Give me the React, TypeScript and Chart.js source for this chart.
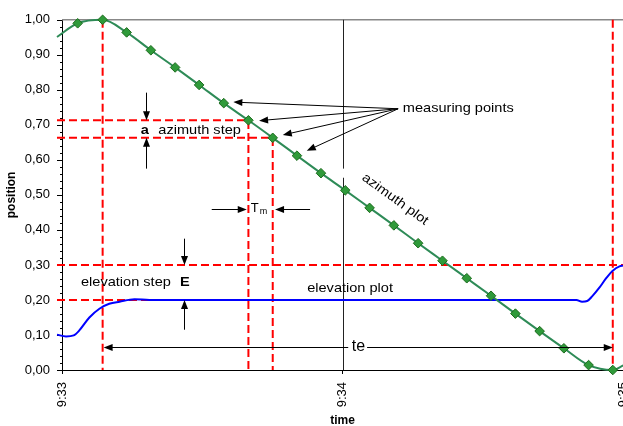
import React, { useEffect, useRef } from 'react';
import { Chart, registerables } from 'chart.js';

Chart.register(...registerables);

const FONT = '"Liberation Sans", Arial, sans-serif';

// x values are seconds after 9:33
const timeTickSeconds = [0, 60, 120];
const timeTickLabels = ['9:33', '9:34', '9:35'];

// measuring points (diamonds) on the azimuth plot
const measTimes = [3.35, 8.69, 13.82, 19.0, 24.19, 29.32, 34.59, 39.86, 45.06, 50.24, 55.37, 60.58, 65.77, 70.96, 76.15, 81.36, 86.55, 91.74, 96.95, 102.13, 107.32, 112.6, 117.77];
const measValues = [0.99, 1.0, 0.964, 0.913, 0.864, 0.814, 0.762, 0.713, 0.663, 0.612, 0.562, 0.513, 0.463, 0.413, 0.362, 0.312, 0.262, 0.212, 0.161, 0.111, 0.062, 0.014, 0.0];
// curve continuation beyond first / last measuring point
const azLead = [-1.07, 0.951];
const azTail = [120, 0.013];

// elevation plot
const elevTimes = [-1.07, 0.86, 2.5, 3.7, 5.85, 8.0, 10.1, 12.3, 15.5, 18.7, 60, 110.0, 111.2, 112.3, 113.4, 114.9, 116.4, 117.7, 119.2, 120];
const elevValues = [0.101, 0.096, 0.099, 0.113, 0.15, 0.175, 0.189, 0.195, 0.202, 0.2, 0.2, 0.2, 0.195, 0.197, 0.211, 0.235, 0.263, 0.283, 0.296, 0.298];

// red dashed reference lines
const lineStart = -1.07;
const axisEnd = 120;
const peakTime = 8.69;
const endTime = 117.77;
const azStepTimes = [39.86, 45.06];
const azStepValues = [0.713, 0.663];
const elevStepValues = [0.3, 0.2];
const elevStepLineEnd = 30;

// annotation anchors (data coordinates)
const gridGap = [0.575, 0.549];
const measLabel = [72.88, 0.746];
const measArrowFrom = [71.87, 0.746];
const measArrowTips = [[36.64, 0.765], [42.14, 0.712], [47.21, 0.671], [52.34, 0.626]];
const aArrowTime = 18.03;
const aArrowDown = [0.792, 0.713];
const aArrowUp = [0.575, 0.663];
const aLabel = [17.73, 0.685];
const azStepLabel = [20.6, 0.685];
const tmLabel = [40.36, 0.46];
const tmArrowLeft = [32.02, 39.5];
const tmArrowRight = [53.05, 45.56];
const elevStepLabel = [4.06, 0.249];
const eLabel = [25.24, 0.249];
const eArrowTime = 26.16;
const eArrowDown = [0.375, 0.3];
const eArrowUp = [0.115, 0.2];
const elevPlotLabel = [61.6, 0.234];
const teLabel = [63.4, 0.0656];
const teLineFrom = [61.2, 65.24];
const azPlotLabel = [71.23, 0.487];

function drawText(ctx: CanvasRenderingContext2D, str: string, x: number, y: number, size: number, bold = false, align: CanvasTextAlign = 'left', sx = 1.12, rot = 0) {
  ctx.save();
  ctx.translate(x, y);
  if (rot) ctx.rotate(rot);
  ctx.scale(sx, 1);
  ctx.font = `${bold ? 'bold ' : ''}${size}px ${FONT}`;
  ctx.textAlign = align;
  ctx.textBaseline = 'middle';
  ctx.fillStyle = '#000';
  ctx.fillText(str, 0, 0);
  ctx.restore();
}

function arrow(ctx: CanvasRenderingContext2D, x1: number, y1: number, x2: number, y2: number) {
  const a = Math.atan2(y2 - y1, x2 - x1);
  const L = 9;
  const W = 3.5;
  ctx.beginPath();
  ctx.moveTo(x1, y1);
  ctx.lineTo(x2 - L * 0.8 * Math.cos(a), y2 - L * 0.8 * Math.sin(a));
  ctx.stroke();
  ctx.beginPath();
  ctx.moveTo(x2, y2);
  ctx.lineTo(x2 - L * Math.cos(a) + W * Math.sin(a), y2 - L * Math.sin(a) - W * Math.cos(a));
  ctx.lineTo(x2 - L * Math.cos(a) - W * Math.sin(a), y2 - L * Math.sin(a) + W * Math.cos(a));
  ctx.closePath();
  ctx.fill();
}

const annotationPlugin = {
  id: 'annotations',
  beforeDatasetsDraw(chart: any) {
    const { ctx, chartArea: ca, scales } = chart;
    const x = scales.x;
    const y = scales.y;
    ctx.save();
    // top frame line
    ctx.strokeStyle = '#888888';
    ctx.lineWidth = 1.5;
    ctx.beginPath();
    ctx.moveTo(ca.left, ca.top);
    ctx.lineTo(ca.right, ca.top);
    ctx.stroke();
    // 9:34 grid line with gap
    const gx = Math.round(x.getPixelForValue(timeTickSeconds[1])) + 0.5;
    ctx.strokeStyle = '#222';
    ctx.lineWidth = 1;
    ctx.beginPath();
    ctx.moveTo(gx, ca.top);
    ctx.lineTo(gx, y.getPixelForValue(gridGap[0]));
    ctx.moveTo(gx, y.getPixelForValue(gridGap[1]));
    ctx.lineTo(gx, ca.bottom);
    ctx.stroke();
    // y tick marks
    ctx.strokeStyle = '#000';
    y.ticks.forEach((t: any) => {
      const py = Math.round(y.getPixelForValue(t.value)) + 0.5;
      const major = Math.round(t.value * 100) % 10 === 0;
      ctx.beginPath();
      ctx.moveTo(ca.left - (major ? 5 : 2), py);
      ctx.lineTo(ca.left, py);
      ctx.stroke();
    });
    ctx.restore();
  },
  afterDatasetsDraw(chart: any) {
    const { ctx, scales } = chart;
    const x = scales.x;
    const y = scales.y;
    const px = (t: number) => x.getPixelForValue(t);
    const py = (v: number) => y.getPixelForValue(v);
    ctx.save();
    ctx.strokeStyle = '#000';
    ctx.fillStyle = '#000';
    ctx.lineWidth = 1;

    // measuring points
    drawText(ctx, 'measuring points', px(measLabel[0]), py(measLabel[1]), 13);
    measArrowTips.forEach(([t, v]) => arrow(ctx, px(measArrowFrom[0]), py(measArrowFrom[1]), px(t), py(v)));

    // azimuth step
    const ax = Math.round(px(aArrowTime)) + 0.5;
    arrow(ctx, ax, py(aArrowDown[0]), ax, py(aArrowDown[1]));
    arrow(ctx, ax, py(aArrowUp[0]), ax, py(aArrowUp[1]));
    drawText(ctx, 'a', px(aLabel[0]), py(aLabel[1]), 13, true, 'center');
    drawText(ctx, 'azimuth step', px(azStepLabel[0]), py(azStepLabel[1]), 13);

    // Tm
    const ty = Math.round(py(tmLabel[1])) + 0.5;
    arrow(ctx, px(tmArrowLeft[0]), ty, px(tmArrowLeft[1]), ty);
    arrow(ctx, px(tmArrowRight[0]), ty, px(tmArrowRight[1]), ty);
    drawText(ctx, 'T', px(tmLabel[0]), py(tmLabel[1]), 13, false, 'left', 1.0);
    drawText(ctx, 'm', px(tmLabel[0]) + 9, py(tmLabel[1]) + 3, 9, false, 'left', 1.0);

    // elevation step
    const ex = Math.round(px(eArrowTime)) + 0.5;
    arrow(ctx, ex, py(eArrowDown[0]), ex, py(eArrowDown[1]));
    arrow(ctx, ex, py(eArrowUp[0]), ex, py(eArrowUp[1]));
    drawText(ctx, 'elevation step', px(elevStepLabel[0]), py(elevStepLabel[1]), 13);
    drawText(ctx, 'E', px(eLabel[0]), py(eLabel[1]), 13, true);

    // elevation plot
    drawText(ctx, 'elevation plot', px(elevPlotLabel[0]), py(elevPlotLabel[1]), 13, false, 'center');

    // azimuth plot (rotated along the line)
    const ang = Math.atan2(py(measValues[11]) - py(measValues[7]), px(measTimes[11]) - px(measTimes[7]));
    drawText(ctx, 'azimuth plot', px(azPlotLabel[0]), py(azPlotLabel[1]), 13, false, 'center', 1.12, ang);

    // te
    const tey = Math.round(py(teLabel[1])) + 0.5;
    arrow(ctx, px(teLineFrom[0]), tey, px(peakTime) + 1, tey);
    arrow(ctx, px(teLineFrom[1]), tey, px(endTime), tey);
    drawText(ctx, 'te', px(teLabel[0]), py(teLabel[1]), 16, false, 'center', 1.0);

    ctx.restore();
  },
};

const redLine = (pts: number[][]) => ({
  data: pts.map(([a, b]) => ({ x: a, y: b })),
  showLine: true,
  borderColor: '#ff0000',
  borderWidth: 2,
  borderDash: [8, 4],
  pointRadius: 0,
  tension: 0,
  clip: false,
  order: 2,
});

export default function App() {
  const ref = useRef<HTMLCanvasElement>(null);
  useEffect(() => {
    document.body.style.margin = '0';
    const canvas = ref.current;
    if (!canvas) return;
    const azCurve = [azLead, ...measTimes.map((t, i) => [t, measValues[i]]), azTail].map(([a, b]) => ({ x: a, y: b }));
    const chart = new Chart(canvas, {
      type: 'scatter',
      data: {
        datasets: [
          {
            label: 'measuring points',
            data: measTimes.map((t, i) => ({ x: t, y: measValues[i] })),
            showLine: false,
            pointStyle: 'rectRot',
            pointRadius: 4.8,
            pointBackgroundColor: '#2f9a3a',
            pointBorderColor: '#1d6b1d',
            pointBorderWidth: 1,
            clip: false,
            order: 0,
          },
          {
            label: 'azimuth plot',
            data: azCurve,
            showLine: true,
            borderColor: '#2e8b57',
            borderWidth: 2,
            pointRadius: 0,
            cubicInterpolationMode: 'monotone',
            clip: false,
            order: 1,
          },
          {
            label: 'elevation plot',
            data: elevTimes.map((t, i) => ({ x: t, y: elevValues[i] })),
            showLine: true,
            borderColor: '#0000ff',
            borderWidth: 2,
            pointRadius: 0,
            cubicInterpolationMode: 'monotone',
            clip: false,
            order: 1,
          },
          redLine([[lineStart, azStepValues[0]], [azStepTimes[0], azStepValues[0]], [azStepTimes[0], 0]]),
          redLine([[lineStart, azStepValues[1]], [azStepTimes[1], azStepValues[1]], [azStepTimes[1], 0]]),
          redLine([[peakTime, 1], [peakTime, 0]]),
          redLine([[endTime, 1], [endTime, 0]]),
          redLine([[lineStart, elevStepValues[0]], [axisEnd, elevStepValues[0]]]),
          redLine([[lineStart, elevStepValues[1]], [elevStepLineEnd, elevStepValues[1]]]),
        ] as any,
      },
      options: {
        responsive: false,
        animation: false,
        events: [],
        layout: { padding: { top: 15, left: 0, right: 0, bottom: 0 } },
        plugins: { legend: { display: false }, tooltip: { enabled: false } },
        scales: {
          x: {
            type: 'linear',
            min: timeTickSeconds[0],
            max: timeTickSeconds[2],
            afterBuildTicks: (s: any) => {
              s.ticks = timeTickSeconds.map((v) => ({ value: v }));
            },
            afterFit: (s: any) => {
              s.height = 56;
              s.paddingLeft = 0;
              s.paddingRight = 0;
            },
            ticks: {
              autoSkip: false,
              minRotation: 90,
              maxRotation: 90,
              padding: 8,
              color: '#000',
              font: { size: 13, family: FONT },
              callback: (_v: any, i: number) => timeTickLabels[i],
            },
            grid: { display: true, drawOnChartArea: false, drawTicks: true, tickLength: 4, color: '#000' },
            border: { display: true, color: '#000', width: 1 },
            title: {
              display: true,
              text: 'time',
              color: '#000',
              font: { size: 12, weight: 'bold', family: FONT, lineHeight: 0.84 },
              padding: 0,
            },
          },
          y: {
            type: 'linear',
            min: 0,
            max: 1,
            afterFit: (s: any) => {
              s.width = 62;
            },
            ticks: {
              stepSize: 0.02,
              autoSkip: false,
              padding: 12,
              color: '#000',
              font: { size: 13, family: FONT },
              callback: (v: any) => {
                const n = Math.round(Number(v) * 100);
                return n % 10 === 0 ? (n / 100).toFixed(2).replace('.', ',') : '';
              },
            },
            grid: { display: false, drawTicks: false },
            border: { display: true, color: '#000', width: 1 },
            title: {
              display: true,
              text: 'position',
              color: '#000',
              font: { size: 12, weight: 'bold', family: FONT, lineHeight: 1.2 },
              padding: { top: 4.5, bottom: 0 },
            },
          },
        },
      } as any,
      plugins: [annotationPlugin],
    });
    return () => chart.destroy();
  }, []);
  return (
    <div style={{ position: 'absolute', left: 0, top: 0, width: 623, height: 426, overflow: 'hidden', background: '#fff' }}>
      <canvas ref={ref} width={629} height={426} style={{ display: 'block' }} />
    </div>
  );
}
